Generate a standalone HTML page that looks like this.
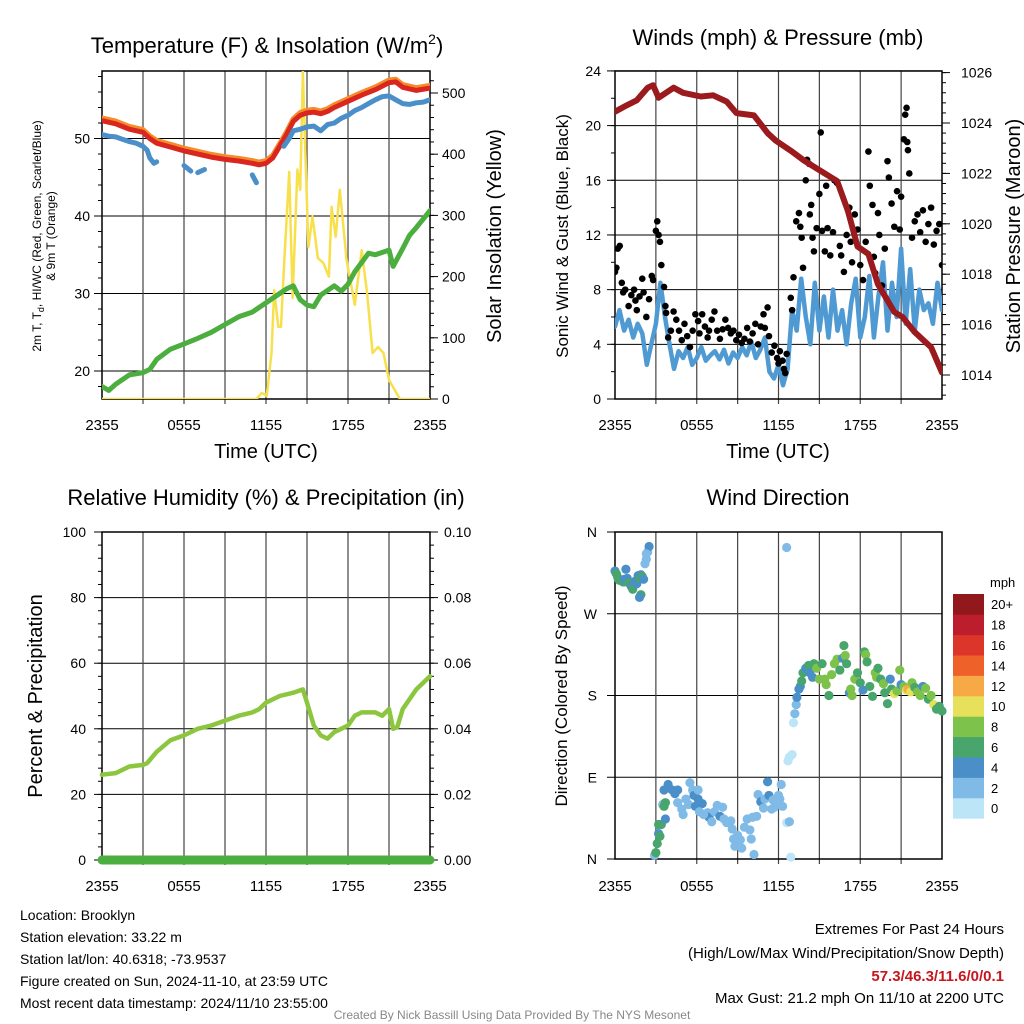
<!DOCTYPE html>
<html><head><meta charset="utf-8"><style>
html,body{margin:0;padding:0;background:#fff;}
svg{display:block;font-family:"Liberation Sans",Arial,sans-serif;}
</style></head><body>
<svg id="chart" width="1024" height="1024" viewBox="0 0 1024 1024" xmlns="http://www.w3.org/2000/svg">
<rect width="1024" height="1024" fill="#fff"/>
<text x="267" y="53" font-size="22" text-anchor="middle">Temperature (F) &amp; Insolation (W/m<tspan font-size="14" dy="-9">2</tspan><tspan dy="9">)</tspan></text>
<text x="778" y="45" font-size="22" text-anchor="middle">Winds (mph) &amp; Pressure (mb)</text>
<text x="266" y="505" font-size="22" text-anchor="middle">Relative Humidity (%) &amp; Precipitation (in)</text>
<text x="778" y="505" font-size="22" text-anchor="middle">Wind Direction</text>
<text transform="translate(41,236) rotate(-90)" font-size="12" text-anchor="middle">2m T, T<tspan font-size="9" dy="3">d</tspan><tspan dy="-3">, HI/WC (Red, Green, Scarlet/Blue)</tspan></text>
<text transform="translate(55,236) rotate(-90)" font-size="12" text-anchor="middle">&amp; 9m T (Orange)</text>
<text transform="translate(501,236) rotate(-90)" font-size="20" text-anchor="middle">Solar Insolation (Yellow)</text>
<text transform="translate(568,236) rotate(-90)" font-size="17" text-anchor="middle">Sonic Wind &amp; Gust (Blue, Black)</text>
<text transform="translate(1020,236) rotate(-90)" font-size="20" text-anchor="middle">Station Pressure (Maroon)</text>
<text transform="translate(42,696) rotate(-90)" font-size="20" text-anchor="middle">Percent &amp; Precipitation</text>
<text transform="translate(567,696) rotate(-90)" font-size="17" text-anchor="middle">Direction (Colored By Speed)</text>
<text x="266" y="458" font-size="20" text-anchor="middle">Time (UTC)</text>
<text x="778" y="458" font-size="20" text-anchor="middle">Time (UTC)</text>
<g font-size="14">
<text x="20" y="920">Location: Brooklyn</text>
<text x="20" y="942">Station elevation: 33.22 m</text>
<text x="20" y="964">Station lat/lon: 40.6318; -73.9537</text>
<text x="20" y="986">Figure created on Sun, 2024-11-10, at 23:59 UTC</text>
<text x="20" y="1008">Most recent data timestamp: 2024/11/10 23:55:00</text>
</g>
<g font-size="15" text-anchor="end">
<text x="1004" y="934">Extremes For Past 24 Hours</text>
<text x="1004" y="958">(High/Low/Max Wind/Precipitation/Snow Depth)</text>
<text x="1004" y="981" fill="#c8161d" font-weight="bold">57.3/46.3/11.6/0/0.1</text>
<text x="1004" y="1003">Max Gust: 21.2 mph On 11/10 at 2200 UTC</text>
</g>
<text x="512" y="1019" font-size="12" fill="#888" text-anchor="middle">Created By Nick Bassill Using Data Provided By The NYS Mesonet</text>
<g id="layer"></g>
</svg>
<script>
// ---------- data ----------
const xTickLabels = ["2355","0555","1155","1755","2355"];
const tempHours = [0,1,2,3,3.5,4,5,6,7,8,9,10,11,11.5,12,12.5,13,13.5,14,14.5,15,15.5,16,16.5,17,18,19,20,21,21.5,22,23,24];
const tempValues = [52.3,51.9,51.2,50.8,50.0,49.4,48.9,48.4,48.0,47.6,47.3,47.1,46.8,46.6,46.8,47.5,49.0,50.5,52.2,53.0,53.3,53.4,53.2,53.5,54.0,54.8,55.6,56.3,57.2,57.3,56.6,56.2,56.5];
const blueHours = [0,0.5,1,1.5,2,2.5,3,3.3,3.5,3.8,4,null,6,6.5,null,7,7.5,null,8,null,10.5,null,11,11.3,null,13.3,13.7,14,14.5,15,15.5,16,16.5,17,17.5,18,18.5,19,19.5,20,20.5,21,21.5,22,22.5,23,23.5,24];
const blueValues = [50.5,50.3,50.2,49.9,49.6,49.4,49.0,48.5,47.5,46.8,47.0,null,46.5,45.8,null,45.6,46.0,null,46.3,null,46.2,null,45.3,44.3,null,49.0,50.0,51.0,51.2,51.5,51.6,51.0,51.8,52.0,52.6,53.0,53.6,54.0,54.5,55.0,55.4,55.5,55.0,54.5,54.4,54.6,54.7,55.0];
const dewHours = [0,0.5,1,2,3,3.5,4,5,6,7,8,9,10,11,12,13,13.5,14,14.5,15,15.5,16,17,17.5,18,18.5,19,19.5,20,21,21.3,22,22.5,23,24];
const dewValues = [18,17.5,18.3,19.5,19.8,20.2,21.5,22.8,23.5,24.2,25.0,26.0,27.0,27.6,28.8,30.0,30.6,31.0,29.2,28.5,28.3,29.8,31.0,30.3,31.2,32.8,34.0,35.2,35.0,35.6,33.5,35.8,37.5,38.5,40.7];
const solarHours = [0,11.3,11.7,12.05,12.4,12.6,12.9,13.1,13.3,13.7,13.95,14.3,14.5,14.7,14.95,15.1,15.4,15.8,16.2,16.6,16.8,17.1,17.4,17.9,18.5,19.0,19.4,19.8,20.2,20.6,21.0,21.8,24];
const solarValues = [0,0,10,5,75,178,118,118,211,371,165,375,342,535,353,248,298,230,222,200,314,265,342,227,154,243,173,75,85,75,31,0,0];
const tempTicks = [20,30,40,50];
const solarTicks = [0,100,200,300,400,500];

const windTicks = [0,4,8,12,16,20,24];
const pressureTicks = [1014,1016,1018,1020,1022,1024,1026];
const windValues = [5.3,6.5,5.0,5.8,4.5,5.5,4.8,2.5,4.0,5.5,8.5,6.0,4.0,2.2,3.5,3.0,3.8,2.5,3.0,3.8,2.8,3.2,3.5,2.9,3.6,2.6,3.4,3.0,3.8,3.2,4.2,3.0,3.6,4.5,2.0,1.5,2.5,1.0,2.2,6.5,5.0,8.8,6.0,4.0,8.5,5.0,7.5,4.5,8.0,5.0,6.5,4.0,7.0,8.8,4.5,6.0,9.0,4.5,7.5,10.0,5.0,8.5,6.0,11.0,5.5,9.5,5.0,8.0,6.5,7.0,5.5,8.5,6.5];
const pressureHours = [0,0.85,1.6,2.4,2.8,3.2,4.3,5.0,6.3,7.2,8.2,8.9,9.06,10.2,11.2,11.8,12.9,13.9,15.1,16.3,17.1,17.8,18.6,19.3,20.5,21.1,22.0,23.2,24];
const pressureValues = [1024.45,1024.7,1024.9,1025.4,1025.5,1025.0,1025.4,1025.2,1025.05,1025.1,1024.85,1024.4,1024.38,1024.3,1023.6,1023.3,1022.9,1022.5,1022.1,1021.7,1020.5,1019.1,1018.8,1017.6,1016.5,1016.3,1015.7,1015.1,1014.1];
const gustHours = [0.0,0.1,0.2,0.35,0.5,0.6,0.75,1.0,1.2,1.4,1.5,1.6,1.8,2.0,2.1,2.3,2.5,2.7,2.8,3.0,3.1,3.2,3.3,3.4,3.6,3.7,3.75,3.9,4.1,4.3,4.5,4.7,4.9,5.1,5.3,5.5,5.7,5.9,6.1,6.2,6.4,6.6,6.8,6.9,7.1,7.3,7.5,7.7,7.9,8.1,8.3,8.5,8.7,8.9,9.1,9.3,9.5,9.7,9.9,10.1,10.3,10.5,10.7,10.9,11.0,11.2,11.3,11.5,11.7,11.9,12.0,12.1,12.3,12.4,12.5,12.6,12.9,13.0,13.1,13.3,13.5,13.6,13.7,13.8,14.0,14.1,14.25,14.3,14.4,14.5,14.6,14.8,15.0,15.1,15.2,15.4,15.5,15.6,15.8,16.0,16.1,16.3,16.5,16.6,16.8,17.0,17.2,17.3,17.4,17.6,17.8,18.0,18.2,18.4,18.6,18.7,18.9,19.0,19.1,19.3,19.4,19.6,19.8,20.0,20.1,20.3,20.5,20.7,20.9,21.0,21.2,21.3,21.4,21.45,21.5,21.6,21.8,22.0,22.2,22.4,22.6,22.8,23.0,23.2,23.4,23.6,23.8,24.0];
const gustValues = [9.3,9.6,11.0,11.2,8.5,7.8,8.0,6.8,7.6,8.0,7.2,6.5,7.5,8.8,7.8,6.0,7.3,9.0,8.7,12.3,13.0,12.0,11.5,9.8,8.2,6.8,6.3,4.5,5.0,6.4,5.8,5.0,4.3,5.5,4.6,3.8,5.0,6.2,5.7,4.8,6.2,5.3,4.5,5.0,5.8,6.4,5.0,4.4,5.1,5.8,5.2,4.8,5.0,4.3,4.7,4.1,4.4,5.2,4.2,4.8,5.5,4.0,5.3,6.2,5.2,6.7,4.6,3.4,3.9,3.0,2.6,3.5,2.8,2.2,1.9,3.3,7.4,6.5,8.9,13.0,13.6,12.6,11.8,9.6,16.0,17.5,17.2,13.5,14.2,11.8,10.8,12.5,15.0,19.5,12.3,10.8,15.6,12.5,10.5,12.2,16.0,15.8,11.2,10.5,9.3,12.0,14.0,11.5,10.0,13.5,12.4,9.8,8.7,11.5,18.1,15.6,14.2,10.4,9.2,13.6,12.0,8.3,11.0,17.4,16.2,14.3,12.6,15.2,12.4,14.8,19.0,20.8,21.3,18.8,18.2,16.5,11.8,13.0,13.5,12.2,13.8,11.5,12.8,14.0,11.3,12.3,12.8,9.8];

const rhTicks = [0,20,40,60,80,100];
const precipTicks = ["0.00","0.02","0.04","0.06","0.08","0.10"];
const rhHours = [0,1,2,3,3.3,4,5,6,7,8,9,10,11,11.5,12,13,14,14.7,15,15.5,16,16.5,17,17.5,18,18.5,19,20,20.5,21,21.3,21.6,22,23,24];
const rhValues = [26,26.5,28.5,29,29.5,33,36.5,38,40,41,42.5,44,45,46,48,50,51,52,48,41,38,37,39,40,41,44,45,45,44,46,40,40.5,46,52,56];
const precipHours = [0,24];
const precipValues = [0,0];

const dirTickLabels = ["N","E","S","W","N"];
const speedBins = ["0","2","4","6","8","10","12","14","16","18","20+"];
const dirHours = [0,0.1,0.2,0.3,0.5,0.6,0.7,0.8,0.9,1.0,1.2,1.3,1.5,1.6,1.7,1.8,1.9,2.0,2.1,1.9,1.8,2.2,2.3,2.4,2.5,2.3,
2.9,3.0,3.1,3.2,3.3,3.2,3.4,3.5,3.6,3.7,3.6,3.9,3.7,4.2,4.4,4.6,4.9,4.6,5.0,5.2,5.4,5.5,5.7,5.8,5.9,6.1,6.1,6.4,6.2,6.8,6.9,6.5,7.1,7.3,7.5,7.7,7.9,8.0,8.2,8.5,8.6,8.7,8.8,9.0,9.2,9.3,9.5,9.7,9.9,10.0,10.2,10.1,10.4,10.5,10.7,10.9,11.0,11.2,11.3,11.5,11.6,11.7,11.8,12.0,12.1,12.3,12.2,12.6,12.8,12.9,12.6,
12.7,12.8,13.0,13.1,13.2,13.3,13.35,13.5,13.6,13.7,13.8,14.0,14.2,14.3,14.5,14.6,14.8,15.0,15.2,15.4,15.5,15.7,15.9,16.1,16.3,16.5,16.7,16.8,16.9,17.0,17.2,17.3,17.4,17.6,17.8,18.0,18.2,18.3,18.4,18.5,18.7,18.9,19.1,19.2,19.3,19.5,19.7,19.8,20.0,20.2,20.3,20.5,20.7,20.9,21.0,21.2,21.4,21.5,21.7,21.8,22.0,22.2,22.4,22.6,22.8,23.0,23.2,23.4,23.6,23.8,24.0];
const dirValues = [317,314,310,307,306,305,308,319,309,304,300,297,306,303,312,309,313,311,308,291,288,325,330,338,344,336,
4,7,17,28,25,38,38,60,58,62,76,82,44,76,72,76,55,62,49,66,60,84,76,70,58,76,66,61,52,51,46,49,41,52,59,47,57,44,40,42,33,22,14,26,21,12,35,44,32,22,5,46,47,71,63,56,66,85,70,55,65,57,63,70,66,58,82,40,41,2,343,
108,112,115,150,160,170,178,187,190,196,205,210,213,205,200,215,210,198,215,198,192,180,203,215,220,208,221,235,224,215,183,187,180,198,205,194,186,228,225,217,190,179,205,200,210,198,193,183,171,198,187,182,185,208,192,190,186,187,184,194,189,184,180,190,188,176,180,170,165,168,163];
const dirSpeeds = [4,6,6,6,6,6,4,4,4,6,4,6,4,4,4,6,4,6,4,6,4,2,2,2,4,2,
2,6,6,4,6,6,6,2,6,6,4,4,4,4,4,4,2,2,2,2,2,2,2,4,4,2,4,4,2,2,4,2,2,2,2,4,2,2,2,2,2,2,2,2,2,2,2,2,2,2,2,2,2,2,4,2,2,4,4,2,2,2,2,2,2,2,2,0,2,0,2,
0,0,0,0,2,2,4,4,4,6,6,4,6,4,4,6,8,8,6,8,8,6,8,8,8,6,4,6,8,6,4,8,8,8,6,6,4,6,8,6,6,6,8,8,6,6,8,6,6,4,6,10,8,8,4,8,10,12,10,8,6,8,8,4,8,6,8,10,6,6,6];

// ---------- drawing ----------
const NS = "http://www.w3.org/2000/svg";
const layer = document.getElementById("layer");
function mk(tag, attrs, parent){ const e=document.createElementNS(NS,tag); for(const k in attrs) e.setAttribute(k,attrs[k]); (parent||layer).appendChild(e); return e; }
const binColors = ["#bde5f8","#7fbbe6","#4a8fc7","#48a56c","#7dc24b","#e7e05a","#f6a944","#ee6129","#dc3529","#bd1e2d","#91181b"];

function frame(name, L, R, T, B){
  const g = mk("g",{});
  
  
  for(let k=1;k<8;k++){
    const x = L + (R-L)*k/8;
    const l = mk("line",{x1:x,x2:x,y1:T,y2:B+5,stroke:"#444","stroke-width":1.2},g);
    
    
  }
  const r = mk("rect",{x:L,y:T,width:R-L,height:B-T,fill:"none",stroke:"#000","stroke-width":1.5},g);
  
  
  return g;
}
function hgrid(name, L, R, y){
  const l = mk("line",{x1:L,x2:R,y1:y,y2:y,stroke:"#000","stroke-width":1});
  
  
}
function tick(name, x, y, dx, label, anchor, tx){
  const l = mk("line",{x1:x,x2:x+dx,y1:y,y2:y,stroke:"#000","stroke-width":1});
  
  
  if(label!==null){
    const t = mk("text",{x:tx,y:y+5,"font-size":14,"text-anchor":anchor});
    t.textContent = label;
    
    
  }
}
function xLabels(name, L, R, y){
  xTickLabels.forEach((s,i)=>{
    const t = mk("text",{x:L+(R-L)*i/4,y:y,"font-size":15,"text-anchor":"middle"});
    t.textContent = s;
    
    
  });
}
function pathFrom(hours, vals, xf, yf){
  let d="", pen=false;
  for(let i=0;i<hours.length;i++){
    if(hours[i]===null||vals[i]===null){pen=false;continue;}
    d += (pen?"L":"M") + xf(hours[i]).toFixed(1) + "," + yf(vals[i]).toFixed(1);
    pen=true;
  }
  return d;
}
function line(name, d, color, w){
  const p = mk("path",{d:d,fill:"none",stroke:color,"stroke-width":w,"stroke-linejoin":"round","stroke-linecap":"round"});
  
  
  return p;
}

// Panel 1
{
  const L=102,R=430,T=71,B=399;
  const xs = h => L + h*(R-L)/24;
  const yT = t => 371 - (t-20)*7.75;
  const yS = s => B - s*0.612;
  tempTicks.forEach(v=>hgrid("temp",L,R,yT(v)));
  frame("temp",L,R,T,B);
  for(let v=18;v<=58;v+=2){ if(yT(v)>=T&&yT(v)<=B) tick("temp-minor",L,yT(v),-4,null); }
  tempTicks.forEach(v=>tick("temp-left",L,yT(v),-8,String(v),"end",L-12));
  for(let v=0;v<=540;v+=20){ if(yS(v)>=T) tick("solar-minor",R,yS(v),4,null); }
  solarTicks.forEach(v=>tick("solar-right",R,yS(v),8,String(v),"start",R+12));
  xLabels("temp",L,R,430);
  const clip = mk("clipPath",{id:"c1"}); mk("rect",{x:L,y:T,width:R-L,height:B-T},clip);
  const g = mk("g",{"clip-path":"url(#c1)"});
  
  
  layer.appendChild(g);
  g.appendChild(line("solar-line", pathFrom(solarHours,solarValues,xs,yS), "#f8e04c", 2.5));
  g.appendChild(line("dewpoint-line", pathFrom(dewHours,dewValues,xs,yT), "#4cae3e", 5));
  g.appendChild(line("temp-9m-line", pathFrom(tempHours,tempValues,xs,t=>yT(t+0.35)), "#f68b2a", 5));
  g.appendChild(line("temp-2m-line", pathFrom(tempHours,tempValues,xs,yT), "#d9261f", 5));
  g.appendChild(line("windchill-line", pathFrom(blueHours,blueValues,xs,yT), "#4a8fc9", 5));
}
// Panel 2
{
  const L=615,R=942,T=71,B=399;
  const xs = h => L + h*(R-L)/24;
  const yW = v => B - v*13.67;
  const yP = p => 375 - (p-1014)*25.2;
  windTicks.forEach(v=>hgrid("wind",L,R,yW(v)));
  frame("wind",L,R,T,B);
  for(let v=0;v<=24;v+=2) tick("wind-minor",L,yW(v),-4,null);
  windTicks.forEach(v=>tick("wind-left",L,yW(v),-8,String(v),"end",L-14));
  for(let v=1013.2;v<=1026.1;v+=0.4){ if(yP(v)<=B&&yP(v)>=T) tick("pressure-minor",R,yP(v),4,null); }
  pressureTicks.forEach(v=>tick("pressure-right",R,yP(v),8,String(v),"start",R+19));
  xLabels("wind",L,R,430);
  const clip = mk("clipPath",{id:"c2"}); mk("rect",{x:L,y:T,width:R-L,height:B-T},clip);
  const g = mk("g",{"clip-path":"url(#c2)"});
  
  
  const wh = windValues.map((v,i)=>i*24/(windValues.length-1));
  g.appendChild(line("sonic-wind-line", pathFrom(wh,windValues,xs,yW), "#4f9ad3", 4.5));
  gustValues.forEach((v,i)=>{
    const c = mk("circle",{cx:xs(gustHours[i]),cy:yW(v),r:3.3,fill:"#000"},g);
    
    
  });
  g.appendChild(line("pressure-line", pathFrom(pressureHours,pressureValues,xs,yP), "#9b1a1d", 6));
}
// Panel 3
{
  const L=102,R=430,T=532,B=860;
  const xs = h => L + h*(R-L)/24;
  const yR = r => B - r*(B-T)/100;
  rhTicks.forEach(v=>hgrid("rh",L,R,yR(v)));
  frame("rh",L,R,T,B);
  for(let v=0;v<=100;v+=4) tick("rh-minor",L,yR(v),-4,null);
  rhTicks.forEach(v=>tick("rh-left",L,yR(v),-8,String(v),"end",L-16));
  for(let v=0;v<=100;v+=4) tick("precip-minor",R,yR(v),4,null);
  precipTicks.forEach((s,i)=>tick("precip-right",R,yR(i*20),8,s,"start",R+14));
  xLabels("rh",L,R,891);
  line("precip-line", pathFrom(precipHours,precipValues,xs,p=>yR(p*1000)), "#4cae3e", 9);
  line("rh-line", pathFrom(rhHours,rhValues,xs,yR), "#8cc63f", 4.5);
}
// Panel 4
{
  const L=615,R=942,T=532,B=859;
  const xs = h => L + h*(R-L)/24;
  const yD = d => B - d*(B-T)/360;
  [0,90,180,270,360].forEach(v=>hgrid("dir",L,R,yD(v)));
  frame("dir",L,R,T,B);
  dirTickLabels.forEach((s,i)=>tick("dir-left",L,yD(i*90),-8,s,"end",L-18));
  xLabels("dir",L,R,891);
  dirValues.forEach((d,i)=>{
    const bin = Math.min(10, Math.floor(dirSpeeds[i]/2));
    const c = mk("circle",{cx:xs(dirHours[i]),cy:yD(d),r:4.6,fill:binColors[bin]});
    
    
  });
  const mph = mk("text",{x:990,y:587,"font-size":13});
  mph.textContent = "mph";
  
  
  const top=594, h=20.4;
  speedBins.forEach((s,i)=>{
    const y = top + (10-i)*h;
    const r = mk("rect",{x:953,y:y,width:31,height:h+0.3,fill:binColors[i]});
    
    
    const t = mk("text",{x:991,y:y+h/2+5,"font-size":13});
    t.textContent = s;
    
    
  });
}
</script>
</body></html>
